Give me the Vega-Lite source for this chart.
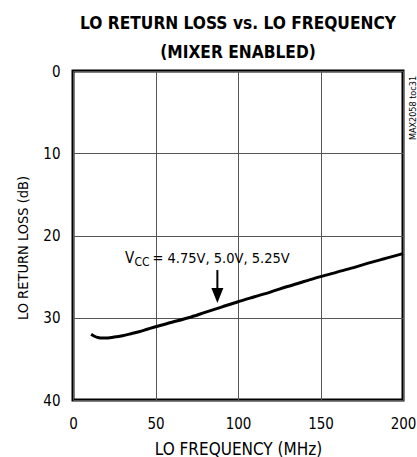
{
  "$schema": "https://vega.github.io/schema/vega-lite/v6.json",
  "width": 330,
  "height": 329,
  "autosize": {"type": "none"},
  "padding": {"left": 73, "top": 71, "right": 14, "bottom": 57},
  "background": "white",
  "title": {
    "text": ["LO RETURN LOSS vs. LO FREQUENCY", "(MIXER ENABLED)"],
    "font": "DejaVu Sans Condensed, sans-serif",
    "fontSize": 17.2,
    "fontWeight": "bold",
    "lineHeight": 29,
    "anchor": "middle",
    "frame": "group",
    "baseline": "alphabetic",
    "offset": 4,
    "dy": 15,
    "color": "black"
  },
  "config": {
    "view": {"stroke": "black", "strokeWidth": 3},
    "font": "DejaVu Sans Condensed, sans-serif"
  },
  "datasets": {
    "curve": [
      {"freq": 11, "rl": 32.0},
      {"freq": 13, "rl": 32.25},
      {"freq": 15, "rl": 32.4},
      {"freq": 18, "rl": 32.47},
      {"freq": 21, "rl": 32.45},
      {"freq": 25, "rl": 32.35},
      {"freq": 30, "rl": 32.18},
      {"freq": 35, "rl": 31.95},
      {"freq": 40, "rl": 31.7},
      {"freq": 45, "rl": 31.4},
      {"freq": 50, "rl": 31.1},
      {"freq": 60, "rl": 30.55},
      {"freq": 70, "rl": 30.0},
      {"freq": 80, "rl": 29.35},
      {"freq": 90, "rl": 28.7},
      {"freq": 100, "rl": 28.05},
      {"freq": 110, "rl": 27.45},
      {"freq": 120, "rl": 26.85},
      {"freq": 130, "rl": 26.2},
      {"freq": 140, "rl": 25.6},
      {"freq": 150, "rl": 25.0},
      {"freq": 160, "rl": 24.45},
      {"freq": 170, "rl": 23.9},
      {"freq": 180, "rl": 23.3},
      {"freq": 190, "rl": 22.75},
      {"freq": 200, "rl": 22.2}
    ],
    "arrow": [{"freq": 87.5, "rl": 24.2, "rl2": 26.8}],
    "head": [{"freq": 87.5, "rl": 27.3}],
    "label": [{"freq": 31.5, "rl": 23.38, "v": "V", "sub": "CC", "rest": "= 4.75V, 5.0V, 5.25V"}]
  },
  "resolve": {"axis": {"y": "independent"}},
  "layer": [
    {
      "data": {"name": "curve"},
      "mark": {"type": "line", "color": "black", "strokeWidth": 3, "interpolate": "monotone"},
      "encoding": {
        "x": {
          "field": "freq", "type": "quantitative",
          "scale": {"domain": [0, 200], "nice": false, "zero": false},
          "axis": {
            "title": "LO FREQUENCY (MHz)",
            "values": [0, 50, 100, 150, 200],
            "grid": true, "gridColor": "#555555", "gridWidth": 1, "gridOpacity": 1,
            "domain": false, "ticks": false, "tickSize": 0,
            "labelPadding": 28, "labelBaseline": "alphabetic", "labelFlush": false, "labelOverlap": false,
            "labelFontSize": 15, "labelColor": "black",
            "titleFontSize": 17, "titleFontWeight": "normal", "titleColor": "black",
            "titleBaseline": "alphabetic", "titleY": 54
          }
        },
        "y": {
          "field": "rl", "type": "quantitative",
          "scale": {"domain": [0, 40], "reverse": true, "nice": false, "zero": false},
          "axis": {
            "title": "LO RETURN LOSS (dB)",
            "values": [0, 10, 20, 30, 40],
            "grid": true, "gridColor": "#555555", "gridWidth": 1, "gridOpacity": 1,
            "domain": false, "ticks": false, "tickSize": 0,
            "labelPadding": 13, "labelOverlap": false,
            "labelFontSize": 15, "labelColor": "black",
            "titleFontSize": 14.5, "titleFontWeight": "normal", "titleColor": "black",
            "titleAngle": 270, "titleBaseline": "alphabetic", "titleAlign": "center",
            "titleX": -46, "titleY": 176.5
          }
        }
      }
    },
    {
      "data": {"name": "arrow"},
      "mark": {"type": "rule", "color": "black", "strokeWidth": 2},
      "encoding": {
        "x": {"field": "freq", "type": "quantitative"},
        "y": {"field": "rl", "type": "quantitative", "axis": null},
        "y2": {"field": "rl2"}
      }
    },
    {
      "data": {"name": "head"},
      "mark": {"type": "point", "shape": "M-0.8,-1L0.8,-1L0,1Z", "size": 225, "filled": true, "color": "black", "opacity": 1, "strokeWidth": 0},
      "encoding": {
        "x": {"field": "freq", "type": "quantitative"},
        "y": {
          "field": "rl", "type": "quantitative",
          "axis": {
            "orient": "right", "title": "MAX2058 toc31",
            "labels": false, "ticks": false, "domain": false, "grid": false,
            "titleAngle": 270, "titleFontSize": 9, "titleFontWeight": "normal", "titleColor": "black",
            "titleBaseline": "alphabetic", "titleAlign": "center",
            "titleX": 12, "titleY": 36.5
          }
        }
      }
    },
    {
      "data": {"name": "label"},
      "mark": {"type": "text", "align": "left", "baseline": "alphabetic", "fontSize": 15, "color": "black"},
      "encoding": {
        "x": {"field": "freq", "type": "quantitative"},
        "y": {"field": "rl", "type": "quantitative", "axis": null},
        "text": {"field": "v"}
      }
    },
    {
      "data": {"name": "label"},
      "mark": {"type": "text", "align": "left", "baseline": "alphabetic", "fontSize": 12, "dx": 9.5, "dy": 3, "color": "black"},
      "encoding": {
        "x": {"field": "freq", "type": "quantitative"},
        "y": {"field": "rl", "type": "quantitative", "axis": null},
        "text": {"field": "sub"}
      }
    },
    {
      "data": {"name": "label"},
      "mark": {"type": "text", "align": "left", "baseline": "alphabetic", "fontSize": 14.5, "dx": 27.5, "color": "black"},
      "encoding": {
        "x": {"field": "freq", "type": "quantitative"},
        "y": {"field": "rl", "type": "quantitative", "axis": null},
        "text": {"field": "rest"}
      }
    }
  ]
}
